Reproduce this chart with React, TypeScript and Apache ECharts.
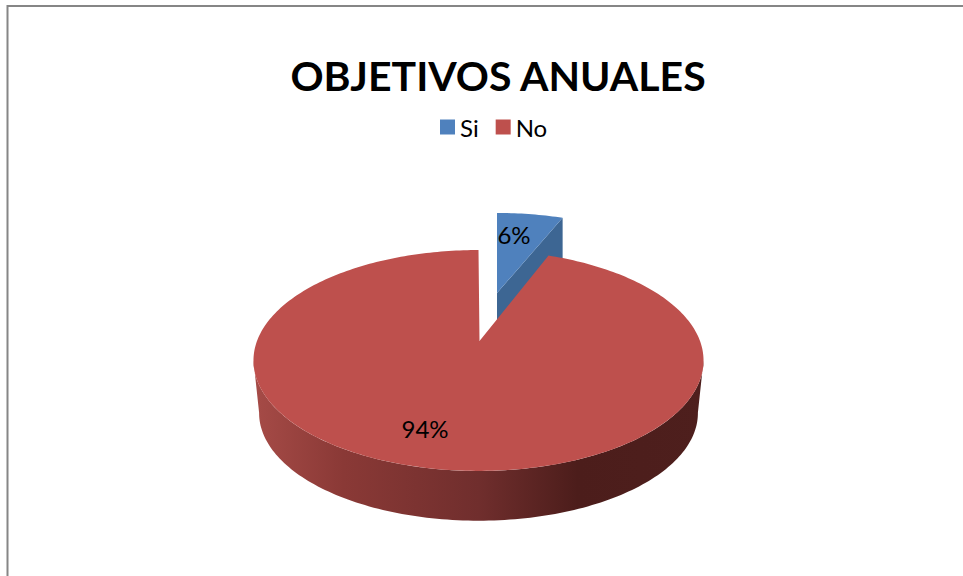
import React, { useEffect, useRef } from "react";
import * as echarts from "echarts";

const chartTitle = "OBJETIVOS ANUALES";
const sliceNames = ["Si", "No"];
const sliceValues = [6, 94];

const FONT = "Lato";
const BLUE = "#4F81BD";
const BLUE_DARK = "#3D6693";
const RED = "#BE504D";

// Perspective model of the disc: radii and foreshortening of the unit circle.
const RX = 221.5;
const RY = 107;
const PERSPECTIVE = 0.1765;
const WALL_SCALE = 0.975;
const WALL_DROP = 53;

type Pt = [number, number];

// theta runs clockwise from twelve o'clock, in radians.
function project(theta: number, ox: number, oy: number, scale: number, stretchX = 1): Pt {
  const u = Math.sin(theta);
  const v = -Math.cos(theta);
  const d = 1 - PERSPECTIVE * v;
  return [ox + (stretchX * scale * RX * u) / d, oy + (scale * RY * v) / d];
}

function arc(a0: number, a1: number, ox: number, oy: number, scale: number, stretchX = 1): Pt[] {
  const steps = Math.max(2, Math.ceil(Math.abs(a1 - a0) / 0.02));
  const pts: Pt[] = [];
  for (let i = 0; i <= steps; i++) {
    pts.push(project(a0 + ((a1 - a0) * i) / steps, ox, oy, scale, stretchX));
  }
  return pts;
}

const total = sliceValues.reduce((s, v) => s + v, 0);
const angleOf = (v: number) => (v / total) * Math.PI * 2;

function renderSi(_: any, api: any) {
  const sweep = angleOf(api.value(0));
  const ox = 497;
  const oy = 293;
  const scale = 0.88;
  const stretchX = 1.065;
  const drop = 46;
  const corner = project(sweep, ox, oy, scale, stretchX);
  return {
    type: "group",
    children: [
      {
        type: "polygon",
        shape: {
          points: [
            [ox, oy],
            corner,
            [corner[0], corner[1] + drop],
            [ox, oy + drop],
          ],
        },
        style: { fill: BLUE_DARK },
      },
      {
        type: "polygon",
        shape: { points: [[ox, oy] as Pt, ...arc(0, sweep, ox, oy, scale, stretchX)] },
        style: { fill: BLUE },
      },
      {
        type: "text",
        x: ox + 17,
        y: oy - 59,
        style: {
          text: `${Math.round((api.value(0) / total) * 100)}%`,
          font: `24px ${FONT}`,
          fill: "#000",
          align: "center",
          verticalAlign: "middle",
        },
      },
    ],
  };
}

function renderNo(_: any, api: any) {
  const start = angleOf(sliceValues[0]);
  const end = start + angleOf(api.value(0));
  const apexX = 479.5;
  const ox = 478.5;
  const oy = 341;
  const frontA = (100 * Math.PI) / 180;
  const frontB = (260 * Math.PI) / 180;
  const topRim = arc(frontA, frontB, ox, oy, 1);
  const lowRim = arc(frontB, frontA, ox, oy + WALL_DROP, WALL_SCALE);
  return {
    type: "group",
    children: [
      {
        type: "polygon",
        shape: { points: [...topRim, ...lowRim] },
        style: {
          fill: new echarts.graphic.LinearGradient(1, 0, 0, 0, [
            { offset: 0, color: "#4E1F1D" },
            { offset: 0.28, color: "#4C1D1B" },
            { offset: 0.5, color: "#702E2D" },
            { offset: 0.8, color: "#8A3936" },
            { offset: 1, color: "#A64B47" },
          ]),
        },
      },
      {
        type: "polygon",
        shape: { points: [[apexX, oy] as Pt, ...arc(start, end, ox, oy, 1)] },
        style: { fill: RED },
      },
      {
        type: "text",
        x: apexX - 54.5,
        y: oy + 87,
        style: {
          text: `${Math.round((api.value(0) / total) * 100)}%`,
          font: `24px ${FONT}`,
          fill: "#000",
          align: "center",
          verticalAlign: "middle",
        },
      },
    ],
  };
}

export default function App() {
  const ref = useRef<HTMLDivElement>(null);

  useEffect(() => {
    document.body.style.margin = "0";
    const chart = echarts.init(ref.current!, undefined, { renderer: "svg" });
    chart.setOption({
      animation: false,
      backgroundColor: "#fff",
      title: {
        text: chartTitle,
        left: 493,
        top: 50,
        textAlign: "center",
        textStyle: {
          fontFamily: FONT,
          fontSize: 41,
          fontWeight: "bold",
          color: "#000",
        },
      },
      legend: {
        left: 435,
        top: 110,
        itemWidth: 15,
        itemHeight: 15,
        itemGap: 17,
        icon: "rect",
        data: sliceNames,
        selectedMode: false,
        textStyle: { fontFamily: FONT, fontSize: 24, color: "#000" },
      },
      graphic: [
        {
          type: "line",
          shape: { x1: 7, y1: 6, x2: 963, y2: 6 },
          style: { stroke: "#868686", lineWidth: 2 },
        },
        {
          type: "line",
          shape: { x1: 7.5, y1: 5, x2: 7.5, y2: 576 },
          style: { stroke: "#868686", lineWidth: 2 },
        },
      ],
      series: [
        {
          type: "custom",
          name: sliceNames[0],
          coordinateSystem: "none",
          itemStyle: { color: BLUE },
          renderItem: renderSi,
          data: [[sliceValues[0]]],
          silent: true,
        },
        {
          type: "custom",
          name: sliceNames[1],
          coordinateSystem: "none",
          itemStyle: { color: RED },
          renderItem: renderNo,
          data: [[sliceValues[1]]],
          silent: true,
        },
      ],
    });
    return () => chart.dispose();
  }, []);

  return <div ref={ref} style={{ width: 963, height: 576 }} />;
}
